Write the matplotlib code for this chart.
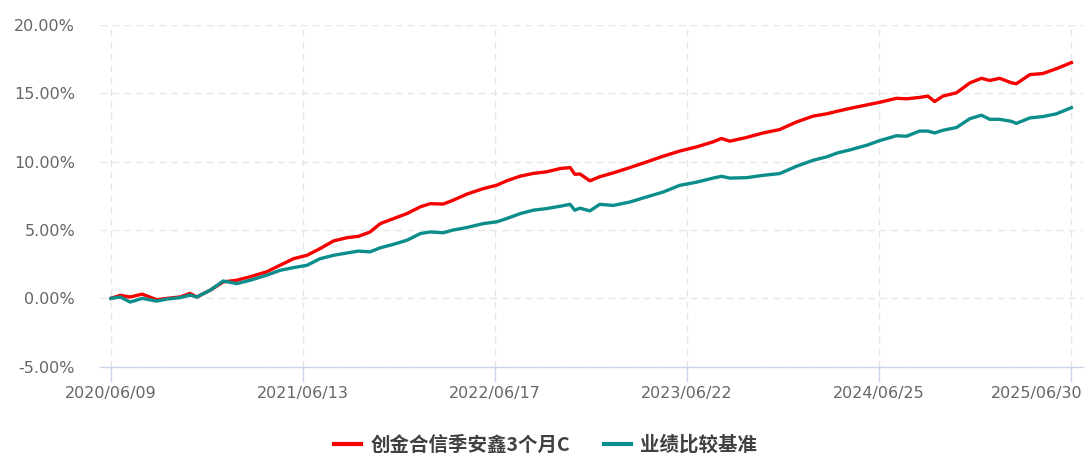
import matplotlib
matplotlib.use("Agg")
import matplotlib.pyplot as plt
import matplotlib.dates as mdates
import matplotlib.transforms as mtransforms
import pandas as pd

plt.rcParams['font.family'] = ['DejaVu Sans', 'Noto Sans CJK SC']

# 累计收益率 (%)
dates = [
    "2020-06-09", "2020-06-27", "2020-07-16", "2020-08-08", "2020-09-05", "2020-09-25",
    "2020-10-20", "2020-11-08", "2020-11-21", "2020-12-17", "2021-01-11", "2021-02-06",
    "2021-03-04", "2021-04-05", "2021-04-30", "2021-05-26", "2021-06-21", "2021-07-16",
    "2021-08-11", "2021-09-06", "2021-09-28", "2021-10-20", "2021-11-09", "2021-12-04",
    "2021-12-30", "2022-01-25", "2022-02-13", "2022-03-10", "2022-03-29", "2022-04-24",
    "2022-05-26", "2022-06-21", "2022-07-10", "2022-08-05", "2022-08-30", "2022-09-25",
    "2022-10-21", "2022-11-09", "2022-11-18", "2022-11-28", "2022-12-17", "2023-01-05",
    "2023-01-31", "2023-03-04", "2023-04-05", "2023-05-07", "2023-06-08", "2023-07-10",
    "2023-08-11", "2023-08-27", "2023-09-12", "2023-10-14", "2023-11-15", "2023-12-17",
    "2024-01-18", "2024-02-19", "2024-03-16", "2024-04-07", "2024-04-30", "2024-06-01",
    "2024-06-27", "2024-07-29", "2024-08-17", "2024-09-11", "2024-09-27", "2024-10-10",
    "2024-10-26", "2024-11-21", "2024-12-17", "2025-01-08", "2025-01-24", "2025-02-12",
    "2025-03-07", "2025-03-16", "2025-04-11", "2025-05-06", "2025-06-01", "2025-06-30",
]
fund = [
    0.00, 0.22, 0.10, 0.31, -0.10, 0.00,
    0.10, 0.36, 0.10, 0.60, 1.20, 1.33,
    1.58, 1.95, 2.42, 2.90, 3.15, 3.64,
    4.20, 4.44, 4.54, 4.85, 5.47, 5.83,
    6.20, 6.70, 6.93, 6.90, 7.18, 7.62,
    8.03, 8.28, 8.60, 8.94, 9.14, 9.26,
    9.50, 9.57, 9.08, 9.10, 8.60, 8.90,
    9.18, 9.57, 9.98, 10.40, 10.78, 11.08,
    11.45, 11.70, 11.50, 11.77, 12.10, 12.35,
    12.90, 13.33, 13.50, 13.70, 13.90, 14.15,
    14.35, 14.64, 14.60, 14.70, 14.80, 14.40,
    14.80, 15.04, 15.77, 16.10, 15.94, 16.10,
    15.77, 15.70, 16.37, 16.45, 16.80, 17.25,
]
benchmark = [
    0.00, 0.10, -0.27, 0.00, -0.20, -0.05,
    0.05, 0.24, 0.10, 0.60, 1.27, 1.08,
    1.33, 1.70, 2.05, 2.25, 2.42, 2.90,
    3.15, 3.32, 3.46, 3.40, 3.70, 3.95,
    4.25, 4.74, 4.86, 4.80, 5.00, 5.18,
    5.47, 5.60, 5.84, 6.20, 6.45, 6.57,
    6.74, 6.88, 6.45, 6.60, 6.40, 6.88,
    6.80, 7.05, 7.42, 7.78, 8.27, 8.50,
    8.80, 8.93, 8.80, 8.83, 9.00, 9.13,
    9.66, 10.10, 10.35, 10.65, 10.86, 11.20,
    11.55, 11.90, 11.86, 12.24, 12.24, 12.10,
    12.30, 12.50, 13.15, 13.40, 13.10, 13.10,
    12.95, 12.80, 13.20, 13.30, 13.50, 13.95,
]
tick_dates = ["2020-06-09", "2021-06-13", "2022-06-17", "2023-06-22", "2024-06-25", "2025-06-30"]
y_ticks = [-5, 0, 5, 10, 15, 20]
names = ["创金合信季安鑫3个月C", "业绩比较基准"]

x = pd.to_datetime(dates)
ticks = pd.to_datetime(tick_dates)

fig = plt.figure(figsize=(10.85, 4.53), dpi=100)
ax = fig.add_axes([0.0922, 0.1905, 0.9058, 0.7543])

ax.plot(x, fund, color="#f70000", lw=2.4, label=names[0], zorder=3)
ax.plot(x, benchmark, color="#0b8e8b", lw=2.4, label=names[1], zorder=3)

ax.set_xlim(ticks[0] - pd.Timedelta(days=21), ticks[-1] + pd.Timedelta(days=22))
ax.set_ylim(-5, 20)
ax.set_xticks(ticks)
ax.xaxis.set_major_formatter(mdates.DateFormatter("%Y/%m/%d"))
ax.set_yticks(y_ticks)
ax.set_yticklabels([f"{v:.2f}%" for v in y_ticks])

for s in ["top", "right", "left"]:
    ax.spines[s].set_visible(False)
ax.spines["bottom"].set_color("#ccd6eb")
ax.spines["bottom"].set_linewidth(1)

ax.grid(True, color="#e6e6e6", linestyle=(0, (5, 3.5)), linewidth=1)
ax.tick_params(axis="y", length=0, pad=18, labelsize=11.5, labelcolor="#666666")
ax.tick_params(axis="x", length=11, width=1, color="#ccd6eb", pad=3,
               labelsize=11.5, labelcolor="#666666")

# last date label sits left so it stays inside the picture
fig.canvas.draw()
last = ax.get_xticklabels()[-1]
last.set_horizontalalignment("right")
last.set_transform(last.get_transform() + mtransforms.ScaledTranslation(11 / 100, 0, fig.dpi_scale_trans))

leg = fig.legend(loc="center", bbox_to_anchor=(0.503, 0.018), ncol=2, frameon=False,
                 handlelength=1.39, handletextpad=0.5, columnspacing=1.7,
                 prop={"family": ["Noto Sans CJK SC", "DejaVu Sans"], "size": 14, "weight": "bold"})
for t in leg.get_texts():
    t.set_color("#404040")
for h in leg.get_lines():
    h.set_linewidth(3)

fig.savefig("out.png", dpi=100)
